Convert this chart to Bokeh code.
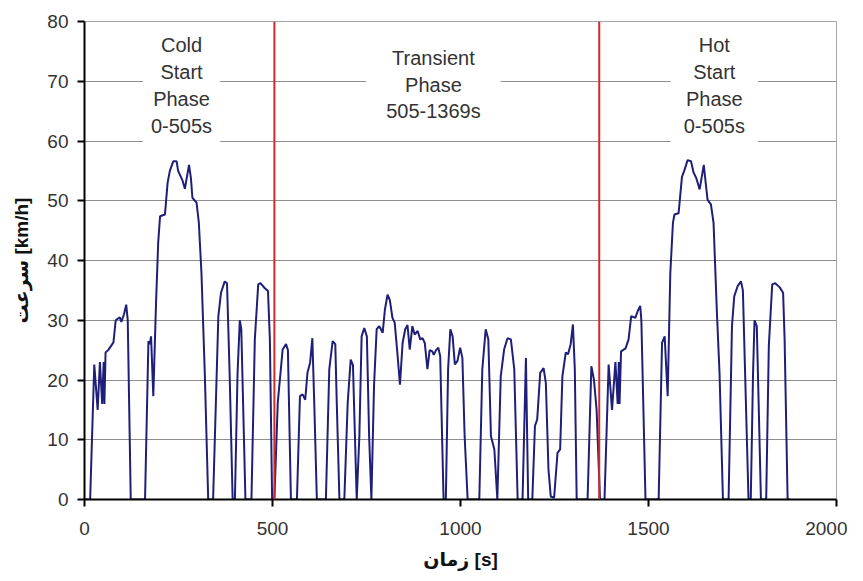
from bokeh.plotting import figure
from bokeh.models import Label, Span, Range1d, FixedTicker, ColumnDataSource
from bokeh.embed import file_html
from bokeh.resources import INLINE

# ---- data ----
cold_time = [0, 15, 26, 35, 41, 47, 51, 53, 56, 63,
             77, 83, 94, 98, 105, 111, 115, 123, 161, 170,
             174, 177, 183, 190, 196, 201, 214, 221, 227, 236,
             245, 249, 260, 267, 271, 278, 283, 287, 298, 304,
             311, 320, 329, 342, 356, 363, 373, 379, 386, 394,
             400, 407, 413, 417, 422, 428, 444, 453, 462, 468,
             479, 488, 493, 499, 505]
cold_speed = [0, 0, 22.6, 15, 23, 16, 23, 16, 24.6, 25,
              26.3, 30, 30.5, 29.7, 31, 32.6, 30, 0, 0, 26.5,
              26, 27.3, 17.3, 32.4, 43, 47.4, 47.7, 53, 55, 56.6,
              56.6, 55, 53.5, 52, 53.5, 56, 53.8, 50.5, 49.7, 46.4,
              38, 21, 0, 0, 30.7, 34.6, 36.5, 36.2, 21, 0,
              0, 21, 30, 28.5, 15.6, 0, 0, 26.8, 36, 36.2,
              35.4, 34.9, 26.8, 0, 0]

trans_time = [505, 514, 527, 536, 541, 549, 565, 573, 580, 587,
              593, 600, 606, 611, 618, 642, 651, 660, 667, 671,
              678, 691, 700, 708, 714, 718, 724, 731, 737, 744,
              751, 757, 763, 770, 777, 784, 793, 799, 806, 812,
              819, 825, 832, 839, 846, 853, 859, 865, 872, 878,
              886, 893, 899, 905, 912, 918, 925, 929, 935, 941,
              946, 955, 961, 967, 973, 979, 985, 992, 999, 1005,
              1011, 1019, 1050, 1058, 1067, 1074, 1081, 1090, 1098, 1107,
              1116, 1125, 1134, 1143, 1152, 1165, 1174, 1180, 1191, 1198,
              1204, 1212, 1221, 1227, 1234, 1240, 1249, 1258, 1265, 1271,
              1280, 1286, 1293, 1299, 1304, 1309, 1338, 1348, 1355, 1362,
              1371]
trans_speed = [0, 16.2, 25.1, 26, 25, 0, 0, 17.3, 17.6, 16.7,
               21.2, 22.9, 27, 16.2, 0, 0, 21.8, 26.5, 26, 16,
               0, 0, 16.2, 23.4, 22.5, 13.4, 0, 10.6, 27.3, 28.7,
               27.3, 10.6, 0, 19, 28.5, 29, 27.9, 31.8, 34.3, 33.4,
               30.4, 29.6, 24.6, 19.2, 26.2, 28.5, 29.2, 25.1, 29, 27.6,
               28.2, 26.8, 27, 26.2, 21.8, 25, 24.8, 24.2, 25, 25.4,
               24, 0, 0, 21.8, 28.5, 27.3, 22.6, 23.2, 25.4, 23.7,
               10.6, 0, 0, 21.8, 28.5, 26.8, 10.6, 8.4, 0, 20.6,
               25.1, 27, 26.8, 21.8, 0, 0, 23.7, 0, 0, 12.3,
               13.4, 21.2, 22, 19.5, 5, 0.5, 0.3, 7.8, 8.4, 20.6,
               24.6, 24.3, 26, 29.3, 21.8, 0, 0, 22.3, 20, 15,
               0]

hot_time = [1371, 1383, 1394, 1403, 1412, 1418, 1421, 1423, 1427, 1439,
            1447, 1454, 1465, 1471, 1478, 1481, 1492, 1527, 1536, 1543,
            1551, 1558, 1565, 1569, 1580, 1589, 1595, 1604, 1613, 1620,
            1627, 1636, 1647, 1654, 1657, 1666, 1673, 1682, 1689, 1698,
            1713, 1722, 1728, 1737, 1746, 1751, 1757, 1766, 1772, 1778,
            1782, 1788, 1793, 1799, 1813, 1820, 1829, 1837, 1849, 1858,
            1862, 1870, 1877]
hot_speed = [0, 0, 22.6, 15, 23, 16, 23, 16, 24.8, 25.3,
             26.8, 30.7, 30.4, 31.5, 32.4, 30, 0, 0, 26.2, 27.3,
             17.3, 37.9, 46.3, 47.7, 47.9, 54, 55, 56.8, 56.6, 54.7,
             53.8, 51.9, 56, 51.9, 50.2, 49.4, 46.3, 31.2, 21, 0,
             0, 29, 34, 35.7, 36.5, 35, 21, 0, 0, 21,
             30, 29, 16, 0, 0, 25.7, 36, 36.2, 35.5, 34.6,
             26.8, 0, 0]

phase_bounds = [505, 1369]
phase_labels = ["Cold\nStart\nPhase\n0-505s", "Transient\nPhase\n505-1369s", "Hot\nStart\nPhase\n0-505s"]
x_ticks = [0, 500, 1000, 1500, 2000]
y_ticks = [0, 10, 20, 30, 40, 50, 60, 70, 80]

# ---- figure ----
p = figure(width=847, height=577, output_backend="svg", toolbar_location=None,
           x_range=Range1d(0, 2000), y_range=Range1d(0, 80),
           min_border_left=84, min_border_right=11, min_border_top=21, min_border_bottom=78,
           background_fill_color="white", border_fill_color="white")

p.outline_line_color = "#a6a6a6"
p.outline_line_width = 1
p.xgrid.visible = False
p.ygrid.grid_line_color = "#8f8f8f"
p.ygrid.grid_line_width = 1
p.ygrid.ticker = FixedTicker(ticks=y_ticks)

for ax in (p.xaxis[0], p.yaxis[0]):
    ax.axis_line_color = "black"
    ax.axis_line_width = 2
    ax.major_tick_line_color = "black"
    ax.major_tick_line_width = 2
    ax.major_tick_out = 7
    ax.major_tick_in = 0
    ax.minor_tick_line_color = None
    ax.major_label_text_font = "Liberation Sans"
    ax.major_label_text_font_size = "19px"
    ax.major_label_text_color = "#333333"
    ax.axis_label_text_font = "Liberation Sans, DejaVu Sans"
    ax.axis_label_text_font_style = "bold"
    ax.axis_label_text_font_size = "19px"
    ax.axis_label_text_color = "#111111"

p.xaxis.ticker = FixedTicker(ticks=x_ticks)
p.yaxis.ticker = FixedTicker(ticks=y_ticks)
p.xaxis.major_label_standoff = 15
p.yaxis.major_label_standoff = 9
p.xaxis.axis_label = "زمان [s]"
p.yaxis.axis_label = "سرعت [km/h]"
p.xaxis.axis_label_standoff = 11
p.yaxis.axis_label_standoff = 12

# phase boundaries
for b in phase_bounds:
    p.add_layout(Span(location=b, dimension="height", line_color="#d02a2a", line_width=2))

# speed trace
t = cold_time + trans_time[1:] + hot_time[1:]
v = cold_speed + trans_speed[1:] + hot_speed[1:]
src = ColumnDataSource(dict(t=t, v=v))
p.line("t", "v", source=src, line_color="#1f1f7a", line_width=2)

# phase annotations
label_x = [258, 928, 1675]
label_y = [78.7, 76.6, 78.7]
pads = [dict(left=8, right=8, top=5, bottom=12),
        dict(left=20, right=20, top=5, bottom=5),
        dict(left=13, right=13, top=5, bottom=12)]
for txt, lx, ly, pd in zip(phase_labels, label_x, label_y, pads):
    p.add_layout(Label(x=lx, y=ly, text=txt, text_align="center", text_baseline="top",
                       text_font="Liberation Sans", text_font_size="20px",
                       text_color="#333333", text_line_height=1.22,
                       background_fill_color="white", background_fill_alpha=1.0,
                       padding=pd))

open("out.html", "w").write(file_html(p, INLINE))
